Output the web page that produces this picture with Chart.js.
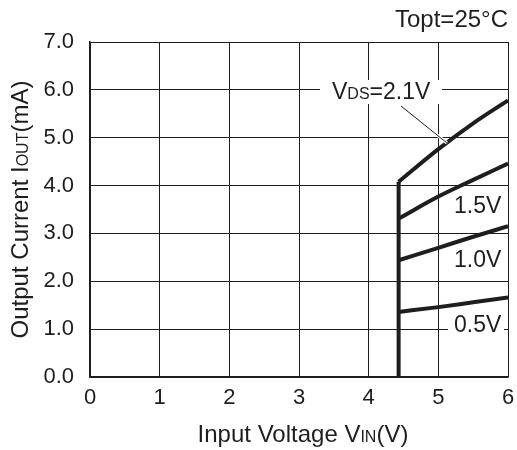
<!DOCTYPE html>
<html>
<head>
<meta charset="utf-8">
<script src="https://cdn.jsdelivr.net/npm/chart.js@4.4.1/dist/chart.umd.min.js"></script>
<style>
  body { margin: 0; background: #fff; }
  canvas { display: block; }
</style>
</head>
<body>
<canvas id="ioutChart" width="517" height="450"></canvas>
<script>
// IOUT vs VIN curves, one per VDS
const curveVin = [4.43, 5.0, 5.5, 6.0];
const iout21 = [4.08, 4.76, 5.30, 5.78];
const iout15 = [3.31, 3.77, 4.12, 4.46];
const iout10 = [2.44, 2.70, 2.93, 3.15];
const iout05 = [1.36, 1.46, 1.56, 1.66];
// turn-on edge
const edgeVin = [4.43, 4.43];
const edgeIout = [0, 4.08];
const xTicks = [0, 1, 2, 3, 4, 5, 6];
const yTicks = [0, 1, 2, 3, 4, 5, 6, 7];

const ink = '#1e1e1e';
const family = '"Liberation Sans", Arial, sans-serif';

function pts(xs, ys) {
	return xs.map((x, i) => ({ x: x, y: ys[i] }));
}

function curve(data) {
	return {
		data: data,
		borderColor: ink,
		borderWidth: 4,
		pointRadius: 0,
		cubicInterpolationMode: 'monotone',
		fill: false
	};
}

// draws text made of parts of different sizes (for subscripts)
function richText(ctx, parts, x, y, align) {
	let total = 0;
	parts.forEach(p => {
		ctx.font = p[1] + 'px ' + family;
		total += ctx.measureText(p[0]).width;
	});
	let cx = x;
	if (align === 'right') cx = x - total;
	if (align === 'center') cx = x - total / 2;
	ctx.textAlign = 'left';
	ctx.textBaseline = 'alphabetic';
	parts.forEach(p => {
		ctx.font = p[1] + 'px ' + family;
		ctx.fillText(p[0], cx, y);
		cx += ctx.measureText(p[0]).width;
	});
}

const labelsPlugin = {
	id: 'labels',
	afterDatasetsDraw(chart) {
		const ctx = chart.ctx;
		ctx.save();

		// VDS=2.1V tag with leader line
		ctx.fillStyle = '#fff';
		ctx.fillRect(320, 80, 122, 24);
		ctx.strokeStyle = '#fff';
		ctx.lineWidth = 3;
		ctx.beginPath();
		ctx.moveTo(401, 106);
		ctx.lineTo(447, 143);
		ctx.stroke();
		ctx.strokeStyle = ink;
		ctx.lineWidth = 1;
		ctx.beginPath();
		ctx.moveTo(401, 106);
		ctx.lineTo(447, 143);
		ctx.stroke();
		ctx.fillStyle = ink;
		richText(ctx, [['V', 23], ['DS', 16], ['=2.1V', 23]], 332, 99, 'left');

		// other curve tags
		const tags = [['1.5V', 213, 195], ['1.0V', 267, 249], ['0.5V', 332, 312]];
		tags.forEach(t => {
			ctx.fillStyle = '#fff';
			ctx.fillRect(448, t[2], 56, 24);
			ctx.fillStyle = ink;
			richText(ctx, [[t[0], 23]], 454, t[1], 'left');
		});
		ctx.restore();
	},
	afterDraw(chart) {
		const ctx = chart.ctx;
		const area = chart.chartArea;
		ctx.save();
		ctx.fillStyle = ink;
		richText(ctx, [['Topt=25°C', 24]], area.right, 27, 'right');
		richText(ctx, [['Input Voltage V', 24], ['IN', 16], ['(V)', 24]], (area.left + area.right) / 2 + 4, 442, 'center');
		ctx.translate(28, (area.top + area.bottom) / 2);
		ctx.rotate(-Math.PI / 2);
		richText(ctx, [['Output Current I', 24], ['OUT', 16], ['(mA)', 24]], 0, 0, 'center');
		ctx.restore();
	}
};

const config = {
	type: 'line',
	data: {
		datasets: [
			curve(pts(curveVin, iout21)),
			curve(pts(curveVin, iout15)),
			curve(pts(curveVin, iout10)),
			curve(pts(curveVin, iout05)),
			{
				data: pts(edgeVin, edgeIout),
				borderColor: ink,
				borderWidth: 4,
				pointRadius: 0,
				tension: 0
			}
		]
	},
	options: {
		responsive: false,
		animation: false,
		layout: { padding: { top: 42, right: 9, left: 0, bottom: 0 } },
		plugins: {
			legend: { display: false },
			tooltip: { enabled: false }
		},
		scales: {
			x: {
				type: 'linear',
				min: 0,
				max: 6,
				afterBuildTicks: s => { s.ticks = xTicks.map(v => ({ value: v })); },
				afterFit: s => {
					s.height = 73;
					s.paddingLeft = 0;
					s.paddingRight = 0;
				},
				grid: { color: ink, lineWidth: 1, drawTicks: false },
				border: { color: ink, width: 1.5 },
				ticks: {
					padding: 8,
					color: ink,
					maxRotation: 0,
					font: { family: family, size: 22 },
					callback: v => String(v)
				}
			},
			y: {
				type: 'linear',
				min: 0,
				max: 7,
				afterBuildTicks: s => { s.ticks = yTicks.map(v => ({ value: v })); },
				afterFit: s => {
					s.width = 90;
					s.paddingTop = 0;
					s.paddingBottom = 0;
				},
				grid: { color: ink, lineWidth: 1, drawTicks: false },
				border: { color: ink, width: 1.5 },
				ticks: {
					padding: 16,
					color: ink,
					font: { family: family, size: 22 },
					callback: v => v.toFixed(1)
				}
			}
		}
	},
	plugins: [labelsPlugin]
};

new Chart(document.getElementById('ioutChart'), config);
</script>
</body>
</html>
